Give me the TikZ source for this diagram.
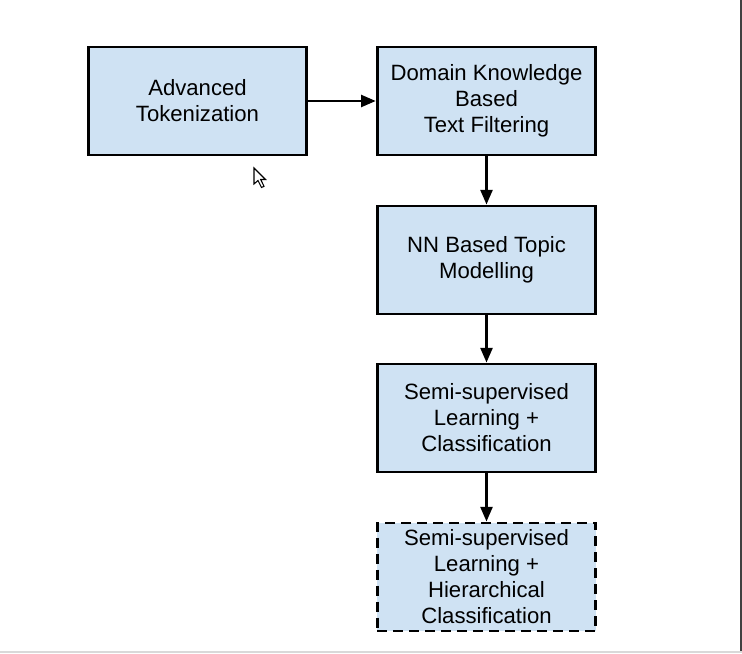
\documentclass[tikz,border=0pt]{standalone}
\usepackage{fontspec}
\setmainfont{Liberation Sans}
\usetikzlibrary{shapes,arrows.meta,positioning}

\definecolor{boxblue}{RGB}{207,226,243}

\begin{document}
\begin{tikzpicture}[
    x=0.75pt, y=-0.75pt,
    box/.style={draw, line width=2.2pt, fill=boxblue, minimum width=164pt, minimum height=81pt, align=center, font=\fontsize{16.6pt}{19.5pt}\selectfont},
    arrow/.style={-{Triangle[length=11pt,width=9pt]}, line width=1.8pt}
]
\useasboundingbox (0,0) rectangle (742,653);

% Frame of the window
\draw[line width=1.2pt, black!75] (741,0) -- (741,651);
\draw[line width=1.5pt, black!15] (0,652) -- (742,652);

% Pipeline boxes
\node[box] (token) at (197.5,101) {Advanced\\Tokenization};
\node[box] (filter) at (486.5,101) {Domain Knowledge\\Based\\Text Filtering};
\node[box] (topic) at (486.5,260) {NN Based Topic\\Modelling};
\node[box] (semi) at (486.5,418) {Semi-supervised\\Learning +\\Classification};
\node[box, dashed, dash pattern=on 7.5pt off 4.5pt] (hier) at (486.5,577) {Semi-supervised\\Learning +\\Hierarchical\\Classification};

% Arrows
\draw[arrow] (token) -- (filter);
\draw[arrow] (filter) -- (topic);
\draw[arrow] (topic) -- (semi);
\draw[arrow] (semi) -- (hier);

% Mouse cursor
\draw[fill=white, line width=0.8pt, line join=miter] (254,168) -- (254,184) -- (258,180.5) -- (261.5,187.5) -- (264,186.3) -- (260.7,179.5) -- (265.5,179.5) -- cycle;

\end{tikzpicture}
\end{document}
